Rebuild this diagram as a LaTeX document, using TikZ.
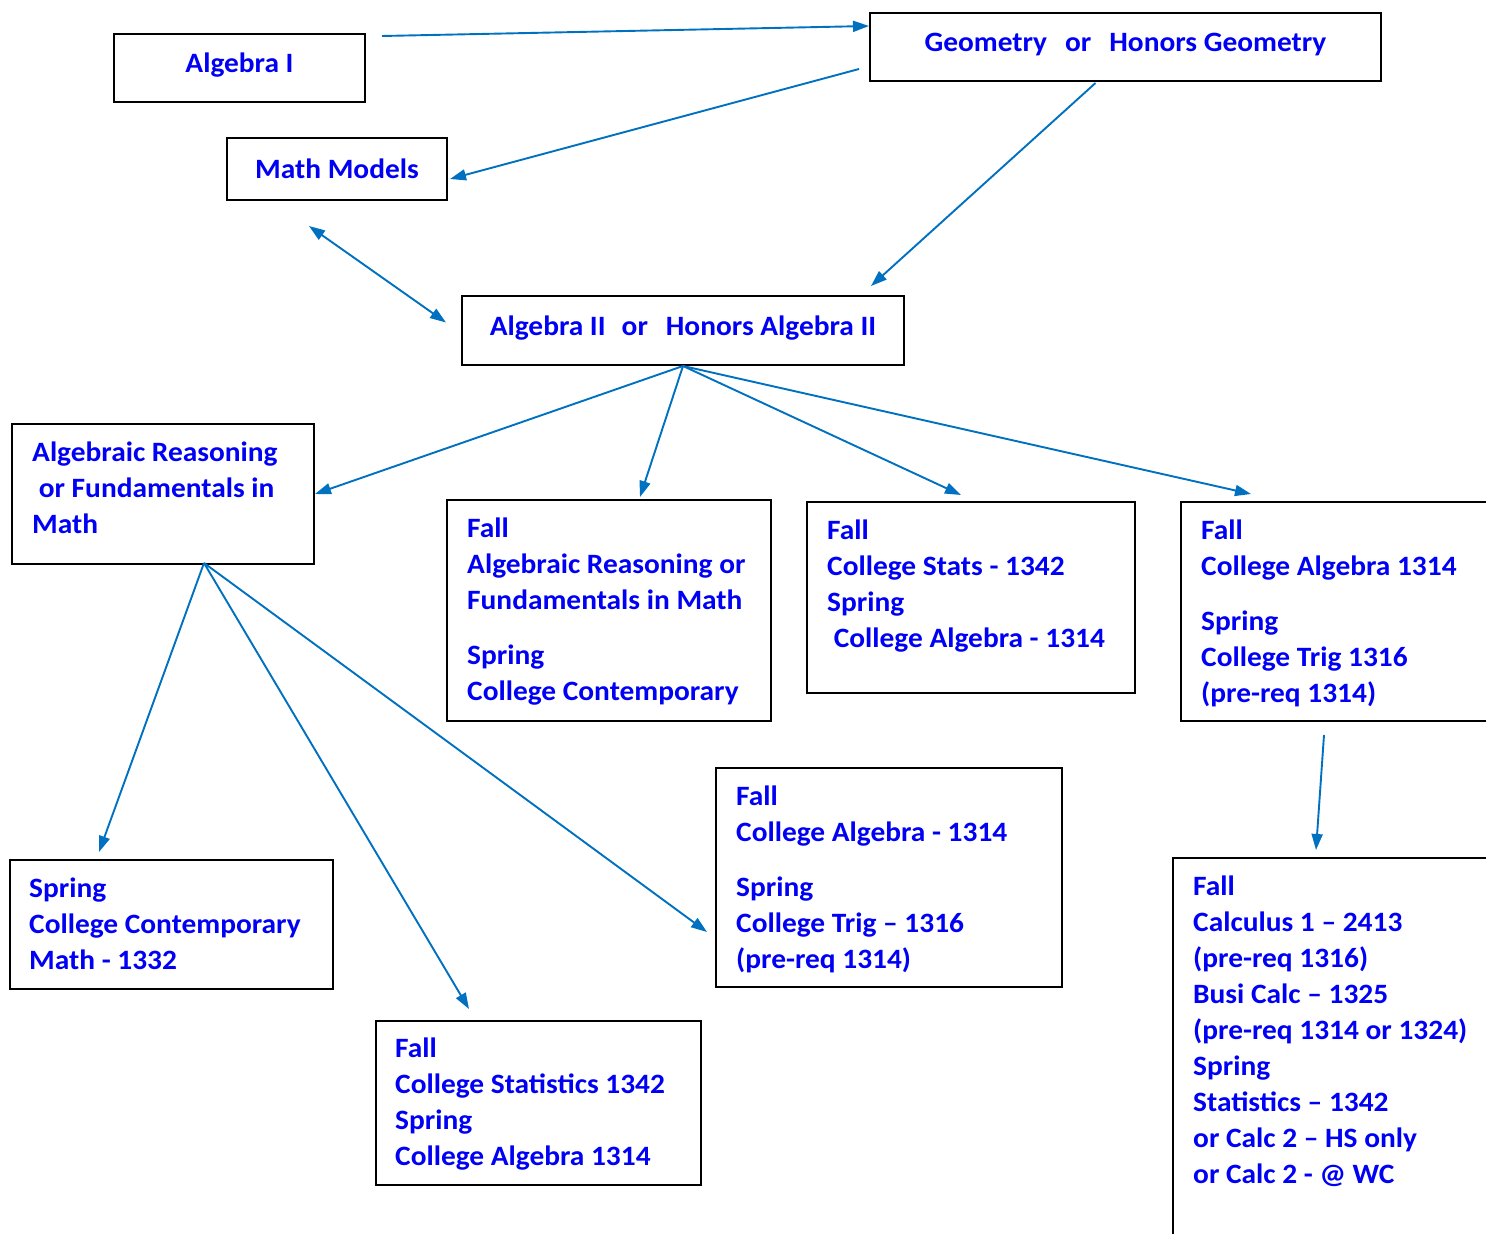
\documentclass[tikz,border=0pt]{standalone}
\usepackage{fontspec}
\setmainfont{Carlito}[FakeStretch=1.05]
\usetikzlibrary{arrows.meta,calc}
\definecolor{txtblue}{RGB}{0,0,245}
\definecolor{arrblue}{RGB}{0,112,192}
\newcommand{\boxfont}{\fontsize{28}{36}\selectfont\bfseries}
\tikzset{
    box/.style={draw=black, line width=2pt, inner sep=0pt, anchor=north west, text=txtblue, font=\boxfont},
    highbox/.style={box, text height=19pt, text depth=10pt},
    lbl/.style={text=txtblue, font=\boxfont, align=left, inner sep=0pt, anchor=north west},
    conn/.style={draw=arrblue, line width=1.9pt, ->},
    >={Triangle[length=16pt,width=11pt]}
}
\begin{document}
\begin{tikzpicture}[x=1pt,y=-1pt]
    \useasboundingbox (0,0) rectangle (1486,1234);
    \clip (0,0) rectangle (1486,1234);
    %\draw[dotted] (0,0) grid[step=100] (1486,1234);
    \node[highbox, minimum width=251pt, minimum height=68pt] (alg1) at (113,33) {Algebra I};
    \node[highbox, minimum width=511pt, minimum height=68pt] (geo) at (869,12) {Geometry\hspace{18pt}or\hspace{18pt}Honors Geometry};
    \node[box, minimum width=220pt, minimum height=62pt] (models) at (226,137) {Math Models};
    \node[highbox, minimum width=442pt, minimum height=69pt] (alg2) at (461,295) {Algebra II\hspace{16pt}or\hspace{18pt}Honors Algebra II};
    \node[box, minimum width=302pt, minimum height=140pt] (fund) at (11,423) {};
    \node[box, minimum width=324pt, minimum height=221pt] (fallfund) at (446,499) {};
    \node[box, minimum width=328pt, minimum height=191pt] (stats) at (806,501) {};
    \node[box, minimum width=330pt, minimum height=219pt] (algtrig) at (1180,501) {};
    \node[box, minimum width=346pt, minimum height=219pt] (midalg) at (715,767) {};
    \node[box, minimum width=323pt, minimum height=129pt] (contemp) at (9,859) {};
    \node[box, minimum width=325pt, minimum height=164pt] (statalg) at (375,1020) {};
    \node[box, minimum width=340pt, minimum height=420pt] (calc) at (1172,857) {};

    \node[lbl] (fundtxt) at (32,435.8) {\strut Algebraic Reasoning\\\ or Fundamentals in\\Math};
    \node[lbl] (fallfundtxt) at (467,511.8) {\strut Fall\\Algebraic Reasoning or\\Fundamentals in Math\\[19pt]Spring\\College Contemporary};
    \node[lbl] (statstxt) at (827,513.8) {\strut Fall\\College Stats - 1342\\Spring\\\ College Algebra - 1314};
    \node[lbl] (algtrigtxt) at (1201,513.8) {\strut Fall\\College Algebra 1314\\[19pt]Spring\\College Trig 1316\\(pre-req 1314)};
    \node[lbl] (midalgtxt) at (736,779.8) {\strut Fall\\College Algebra - 1314\\[19pt]Spring\\College Trig – 1316\\(pre-req 1314)};
    \node[lbl] (contemptxt) at (29,871.8) {\strut Spring\\College Contemporary\\Math - 1332};
    \node[lbl] (statalgtxt) at (395,1031.8) {\strut Fall\\College Statistics 1342\\Spring\\College Algebra 1314};
    \node[lbl] (calctxt) at (1193,869.8) {\strut Fall\\Calculus 1 – 2413\\(pre-req 1316)\\Busi Calc – 1325\\(pre-req 1314 or 1324)\\Spring\\Statistics – 1342\\or Calc 2 – HS only\\or Calc 2 - @ WC};

    \draw[conn] ($(alg1.north east)+(16,3)$) -- ($(geo.north west)+(0,14)$);
    \draw[conn] ($(geo.south west)+(-10,-13)$) -- ($(models.east)+(2,10)$);
    \draw[conn] ($(geo.south)+(-30,1)$) -- ($(alg2.north east)+(-34,-9)$);
    \draw[conn, <->] ($(models.south)+(-28,25)$) -- ($(alg2.west)+(-15,-8)$);
    \draw[conn] (alg2.south) -- (fund.east);
    \draw[conn] (alg2.south) -- ($(fallfund.north)+(31,-2)$);
    \draw[conn] (alg2.south) -- ($(stats.north)+(-10,-6)$);
    \draw[conn] (alg2.south) -- ($(algtrig.north west)+(71,-7)$);
    \draw[conn] ($(fund.south)+(41,-2)$) -- ($(contemp.north west)+(90,-7)$);
    \draw[conn] ($(fund.south)+(41,-2)$) -- ($(statalg.north west)+(94,-11)$);
    \draw[conn] ($(fund.south)+(41,-2)$) -- ($(midalg.south west)+(-8,-56)$);
    \draw[conn] ($(algtrig.south west)+(144,13)$) -- ($(calc.north west)+(144,-7)$);
\end{tikzpicture}
\end{document}
